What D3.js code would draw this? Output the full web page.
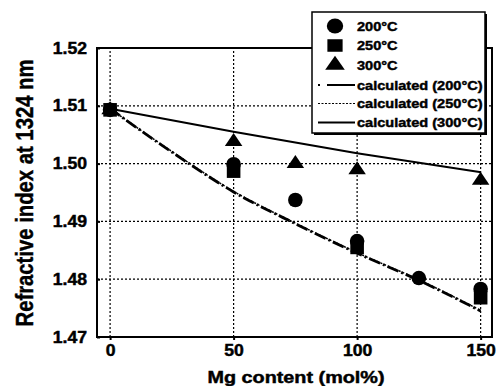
<!DOCTYPE html>
<html>
<head>
<meta charset="utf-8">
<script src="https://cdn.jsdelivr.net/npm/d3@7"></script>
<style>
  body { margin: 0; background: #fff; }
  text { font-family: "Liberation Sans", Arial, sans-serif; font-weight: bold; fill: #000; stroke: #000; stroke-width: 0.45px; }
</style>
</head>
<body>
<svg width="499" height="386"></svg>
<script>
// values
let mg200 = [0, 50, 75, 100, 125, 150];
let n200 = [1.5093, 1.4999, 1.4937, 1.4866, 1.4802, 1.4783];
let mg250 = [0, 50, 100, 150];
let n250 = [1.5093, 1.4987, 1.4855, 1.4768];
let mg300 = [0, 50, 75, 100, 150];
let n300 = [1.5093, 1.5038, 1.5000, 1.4989, 1.4971];
let mgCalc = [0, 25, 50, 75, 100, 125, 150];
let calc200 = [1.5095, 1.5020, 1.4951, 1.4896, 1.4845, 1.4798, 1.4745];
let calc250 = [1.5095, 1.5021, 1.4952, 1.4897, 1.4846, 1.4799, 1.4746];
let mgCalc300 = [0, 50, 100, 150];
let calc300 = [1.5095, 1.5055, 1.5018, 1.4985];
let xTicks = [0, 50, 100, 150];
let yTicks = [1.47, 1.48, 1.49, 1.50, 1.51, 1.52];
let legendLabels = ['200°C', '250°C', '300°C', 'calculated (200°C)', 'calculated (250°C)', 'calculated (300°C)'];

let svg = d3.select('svg');
let x = d3.scaleLinear().domain([-5.3, 154.6]).range([97, 492]);
let y = d3.scaleLinear().domain([1.47, 1.52]).range([337, 48]);

// the scan is a bit wider than tall, so text gets stretched sideways
function stretch(sel, k) {
  sel.each(function() {
    let w = this.getComputedTextLength();
    d3.select(this).attr('textLength', w * k).attr('lengthAdjust', 'spacingAndGlyphs');
  });
}

function zip(xs, ys) {
  return xs.map(function(d, i) { return [d, ys[i]]; });
}

// dotted grid
svg.append('g').selectAll('line.hgrid').data(yTicks.slice(1, -1)).enter()
  .append('line').attr('class', 'hgrid')
  .attr('x1', x.range()[0]).attr('x2', x.range()[1])
  .attr('y1', y).attr('y2', y)
  .attr('stroke', '#000').attr('stroke-width', 1.2).attr('stroke-dasharray', '2,2');

svg.append('g').selectAll('line.vgrid').data(xTicks).enter()
  .append('line').attr('class', 'vgrid')
  .attr('x1', x).attr('x2', x)
  .attr('y1', y.range()[0]).attr('y2', y.range()[1])
  .attr('stroke', '#000').attr('stroke-width', 1.2).attr('stroke-dasharray', '2,2');

// frame
svg.append('rect')
  .attr('x', x.range()[0]).attr('y', y.range()[1])
  .attr('width', x.range()[1] - x.range()[0]).attr('height', y.range()[0] - y.range()[1])
  .attr('fill', 'none').attr('stroke', '#000').attr('stroke-width', 2);

// axes
let yAxis = svg.append('g').attr('transform', 'translate(' + x.range()[0] + ',0)')
  .call(d3.axisLeft(y).tickValues(yTicks).tickFormat(d3.format('.2f')).tickSize(-3).tickPadding(10));
let xAxis = svg.append('g').attr('transform', 'translate(0,' + y.range()[0] + ')')
  .call(d3.axisBottom(x).tickValues(xTicks).tickSize(3).tickPadding(5));

[xAxis, yAxis].forEach(function(a) {
  a.select('.domain').remove();
  a.selectAll('.tick line').attr('stroke', '#000').attr('stroke-width', 2);
  a.selectAll('.tick text').attr('font-size', 16)
    .style('font-family', '"Liberation Sans", Arial, sans-serif').style('font-weight', 'bold');
  stretch(a.selectAll('.tick text'), 1.1);
});

// axis titles
let xTitle = svg.append('text')
  .attr('x', 296).attr('y', 383).attr('text-anchor', 'middle').attr('font-size', 16.5)
  .text('Mg content (mol%)');
stretch(xTitle, 1.2);

svg.append('text')
  .attr('transform', 'translate(33,193) rotate(-90)')
  .attr('text-anchor', 'middle').attr('font-size', 24)
  .attr('textLength', 267).attr('lengthAdjust', 'spacingAndGlyphs')
  .text('Refractive index at 1324 nm');

// calculated curves
let line = d3.line()
  .x(function(d) { return x(d[0]); })
  .y(function(d) { return y(d[1]); })
  .curve(d3.curveMonotoneX);

svg.append('path').datum(zip(mgCalc300, calc300))
  .attr('d', line).attr('fill', 'none').attr('stroke', '#000').attr('stroke-width', 2);
svg.append('path').datum(zip(mgCalc, calc250))
  .attr('d', line).attr('fill', 'none').attr('stroke', '#000').attr('stroke-width', 1.5)
  .attr('stroke-dasharray', '2,2');
svg.append('path').datum(zip(mgCalc, calc200))
  .attr('d', line).attr('fill', 'none').attr('stroke', '#000').attr('stroke-width', 2.8)
  .attr('stroke-dasharray', '12,3,2,3');

// markers
function marker(g, kind, cx, cy, big) {
  let k = big ? 1.12 : 1;
  if (kind == 'circle') {
    g.append('ellipse').attr('cx', cx).attr('cy', cy)
      .attr('rx', 7.3 * k).attr('ry', 7.3 * (big ? 1.03 : 1)).attr('fill', '#000');
  } else if (kind == 'square') {
    g.append('rect').attr('x', cx - 6.8 * k).attr('y', cy - 6.8 * (big ? 0.92 : 1))
      .attr('width', 13.6 * k).attr('height', 13.6 * (big ? 0.92 : 1)).attr('fill', '#000');
  } else {
    let b = 17.5 * k, h = 13 * (big ? 1.08 : 1);
    g.append('path')
      .attr('d', 'M' + cx + ',' + (cy - h * 2 / 3) + 'L' + (cx + b / 2) + ',' + (cy + h / 3) +
        'L' + (cx - b / 2) + ',' + (cy + h / 3) + 'Z')
      .attr('fill', '#000');
  }
}

let pts = svg.append('g');
zip(mg250, n250).forEach(function(d) { marker(pts, 'square', x(d[0]), y(d[1])); });
zip(mg200, n200).forEach(function(d) { marker(pts, 'circle', x(d[0]), y(d[1])); });
zip(mg300, n300).forEach(function(d) { marker(pts, 'triangle', x(d[0]), y(d[1])); });

// legend
let legend = svg.append('g');
legend.append('rect').attr('x', 314).attr('y', 14).attr('width', 173).attr('height', 121).attr('fill', '#000');
legend.append('rect').attr('x', 312).attr('y', 12).attr('width', 173).attr('height', 121)
  .attr('fill', '#fff').attr('stroke', '#000').attr('stroke-width', 1.5);

let rowY = [26, 45.5, 65, 85, 103.5, 122.5];
let kinds = ['circle', 'square', 'triangle'];
kinds.forEach(function(k, i) { marker(legend, k, 335, rowY[i], true); });

let legendDash = ['2,7,30,4', '2,1.5', null];
[3, 4, 5].forEach(function(r, i) {
  let l = legend.append('line')
    .attr('x1', 318).attr('x2', 355).attr('y1', rowY[r]).attr('y2', rowY[r])
    .attr('stroke', '#000').attr('stroke-width', i == 1 ? 1.2 : 2);
  if (legendDash[i]) l.attr('stroke-dasharray', legendDash[i]);
});

let legendText = legend.selectAll('text').data(legendLabels).enter()
  .append('text')
  .attr('x', 357).attr('y', function(d, i) { return rowY[i]; })
  .attr('dy', '.36em').attr('font-size', 13)
  .text(function(d) { return d; });
stretch(legendText, 1.12);
</script>
</body>
</html>
